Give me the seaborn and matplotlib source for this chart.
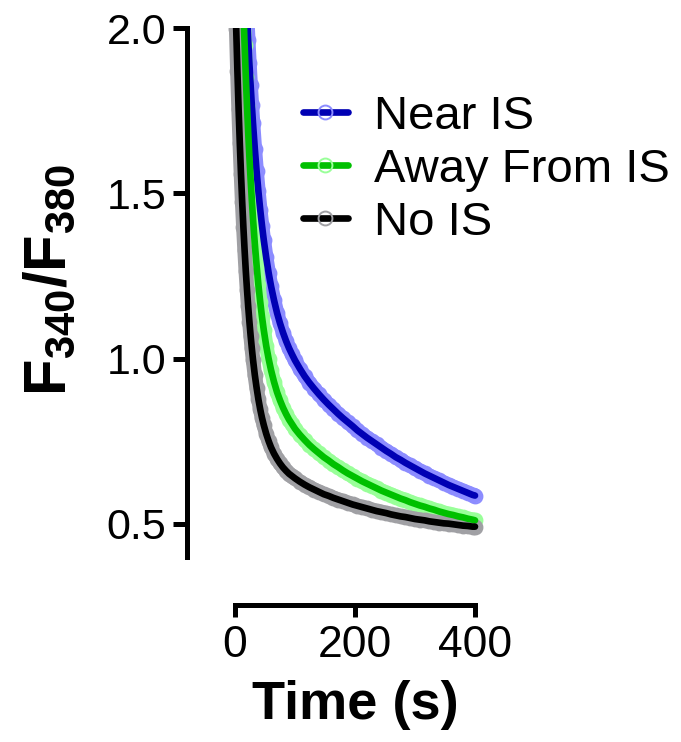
import numpy as np
import pandas as pd
import matplotlib
matplotlib.use("Agg")
import matplotlib.pyplot as plt
from matplotlib.lines import Line2D
import seaborn as sns

# ---- data ----
time_s = [0, 2, 4, 6, 8, 10, 12, 14, 16, 18, 20, 22, 24, 26, 28, 30, 33, 36, 39, 42,
          45, 48, 52, 56, 60, 65, 70, 75, 80, 85, 90, 95, 100,
          108, 116, 124, 132, 140, 148, 156, 164, 172, 180, 188, 196, 204, 212, 220,
          228, 236, 244, 252, 260, 268, 276, 284, 292, 300, 308, 316, 324, 332, 340,
          348, 356, 364, 372, 380, 388, 396, 400]

near_is = [3.246, 3.078, 2.922, 2.779, 2.647, 2.525, 2.412, 2.308, 2.211, 2.122,
           2.040, 1.964, 1.893, 1.828, 1.768, 1.712, 1.635, 1.567, 1.506, 1.451,
           1.402, 1.358, 1.306, 1.260, 1.220, 1.177, 1.139, 1.107, 1.079, 1.054,
           1.032, 1.013, 0.995,
           0.970, 0.947, 0.927, 0.909, 0.892, 0.876, 0.861, 0.847, 0.833, 0.820,
           0.808, 0.796, 0.783, 0.772, 0.761, 0.751, 0.741, 0.731, 0.721, 0.712,
           0.702, 0.694, 0.685, 0.677, 0.669, 0.661, 0.653, 0.646, 0.639, 0.632,
           0.625, 0.618, 0.612, 0.606, 0.600, 0.594, 0.588, 0.586]

away_is = [3.147, 2.945, 2.760, 2.592, 2.439, 2.300, 2.172, 2.056, 1.950, 1.853,
           1.765, 1.684, 1.610, 1.543, 1.481, 1.424, 1.348, 1.282, 1.223, 1.172,
           1.126, 1.086, 1.039, 1.000, 0.966, 0.930, 0.899, 0.874, 0.852, 0.833,
           0.816, 0.802, 0.788,
           0.770, 0.754, 0.739, 0.726, 0.714, 0.702, 0.692, 0.681, 0.672, 0.662,
           0.653, 0.645, 0.637, 0.629, 0.622, 0.615, 0.608, 0.601, 0.595, 0.589,
           0.583, 0.577, 0.572, 0.566, 0.561, 0.556, 0.552, 0.547, 0.543, 0.538,
           0.534, 0.530, 0.527, 0.523, 0.520, 0.516, 0.513, 0.511]

no_is = [2.139, 1.998, 1.871, 1.755, 1.652, 1.558, 1.473, 1.397, 1.328, 1.265,
         1.209, 1.158, 1.112, 1.070, 1.032, 0.997, 0.951, 0.912, 0.877, 0.847,
         0.821, 0.799, 0.773, 0.751, 0.732, 0.713, 0.697, 0.683, 0.671, 0.661,
         0.652, 0.645, 0.638,
         0.628, 0.619, 0.611, 0.604, 0.597, 0.590, 0.585, 0.579, 0.574, 0.569,
         0.564, 0.559, 0.555, 0.551, 0.547, 0.543, 0.539, 0.536, 0.533, 0.529,
         0.526, 0.523, 0.521, 0.518, 0.515, 0.513, 0.511, 0.508, 0.506, 0.504,
         0.502, 0.501, 0.499, 0.497, 0.495, 0.494, 0.492, 0.492]

series_names = ["Near IS", "Away From IS", "No IS"]
y_ticks = [0.5, 1.0, 1.5, 2.0]
y_tick_labels = ["0.5", "1.0", "1.5", "2.0"]
x_ticks = [0, 200, 400]
x_tick_labels = ["0", "200", "400"]

dark_colors = ["#0000b4", "#00c000", "#000000"]
light_colors = ["#8c8cff", "#99ff99", "#a0a0a4"]

# ---- style ----
sns.set_style("ticks")
plt.rcParams["font.family"] = ["Liberation Sans", "DejaVu Sans"]
plt.rcParams["mathtext.fontset"] = "custom"
plt.rcParams["mathtext.bf"] = "Liberation Sans:bold"
plt.rcParams["mathtext.rm"] = "Liberation Sans"
for k in ("text.color", "axes.edgecolor", "axes.labelcolor", "xtick.color",
          "ytick.color", "xtick.labelcolor", "ytick.labelcolor"):
    plt.rcParams[k] = "black"

W, H = 681, 742
fig = plt.figure(figsize=(W / 100, H / 100), dpi=100)
ax = fig.add_axes([187 / W, (H - 605) / H, (490 - 187) / W, (605 - 28) / H])

values = [near_is, away_is, no_is]
df = pd.DataFrame({
    "time": np.tile(time_s, 3),
    "ratio": np.concatenate(values),
    "group": np.repeat(series_names, len(time_s)),
})

# data symbols (dense open circles forming a light band)
for name, lc in zip(series_names, light_colors):
    sub = df[df["group"] == name]
    sns.lineplot(data=sub, x="time", y="ratio", ax=ax, color=lc, lw=10.5,
                 marker="o", ms=10, mfc="none", mec=lc, mew=1.4,
                 solid_capstyle="round", sort=False, legend=False)

# fitted curves
for name, dc in zip(series_names, dark_colors):
    sub = df[df["group"] == name]
    sns.lineplot(data=sub, x="time", y="ratio", ax=ax, color=dc, lw=4.8,
                 solid_capstyle="round", sort=False, legend=False)

ax.set_xlim(-80, 425)
ax.set_ylim(0.255, 2.0)
ax.spines["top"].set_visible(False)
ax.spines["right"].set_visible(False)
for s in ("left", "bottom"):
    ax.spines[s].set_linewidth(3.6)
    ax.spines[s].set_capstyle("projecting")
    ax.spines[s].set_color("black")
ax.spines["left"].set_bounds(0.40, 2.0)
ax.spines["bottom"].set_bounds(0, 400)

ax.set_yticks(y_ticks)
ax.set_yticklabels(y_tick_labels)
ax.set_xticks(x_ticks)
ax.set_xticklabels(x_tick_labels)
ax.tick_params(axis="y", length=10, width=3.6, labelsize=31, pad=5, color="black",
               labelcolor="black")
ax.tick_params(axis="x", length=8.5, width=3.6, labelsize=32, pad=6, color="black",
               labelcolor="black")

ax.set_xlabel("Time (s)", fontsize=39, fontweight="bold", color="black")
ax.xaxis.set_label_coords((355 - 187) / 303, -(705 - 605) / 577)
ax.xaxis.label.set_va("center")
ax.set_ylabel(r"$\mathbf{F_{340}/F_{380}}$", fontsize=43, color="black")
ax.yaxis.set_label_coords((50 - 187) / 303, (605 - 280) / 577)
ax.yaxis.label.set_va("center")

handles = [Line2D([0], [0], color=dc, lw=4.8, marker="o", ms=10, mfc="none",
                  mec=lc, mew=1.4)
           for dc, lc in zip(dark_colors, light_colors)]
fig.legend(handles, series_names, loc="upper left",
           bbox_to_anchor=(303 / W, 1 - 95 / H), frameon=False,
           fontsize=34, handlelength=0.95, handletextpad=0.55,
           labelspacing=0.19, borderpad=0, borderaxespad=0)

fig.savefig("out.png", dpi=100)
